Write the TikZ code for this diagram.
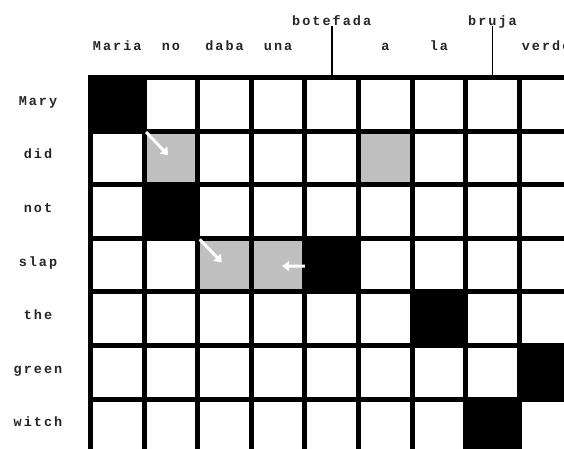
\documentclass[tikz,border=0pt]{standalone}
\usepackage{fontspec}
\newfontfamily\pix[LetterSpace=15,UprightFont=* Bold]{Liberation Mono}
\usetikzlibrary{calc,arrows.meta}
\begin{document}
\begin{tikzpicture}[x=1pt,y=-1pt,
  cell/.style={draw=black, line width=5pt, fill=white, minimum size=53.6pt, inner sep=0pt, outer sep=0pt, rectangle},
  lbl/.style={font=\pix\fontsize{13.5}{15}\selectfont, text=black!85, inner sep=0pt, anchor=base},
  warrow/.style={draw=white, line width=3pt, -{Triangle[width=10pt,length=7pt]}},
  shade/.style={fill=black!25},
  dark/.style={fill=black},
  tick/.style={draw=black, line width=1.8pt}]
\useasboundingbox (0,0) rectangle (564,448);
\clip (0,0) rectangle (564,448);
\fill[white] (0,0) rectangle (564,448);
% grid
\foreach \r in {0,...,6}{
  \foreach \c in {0,...,8}{
    \node[cell] (c-\r-\c) at ({90.5+53.6*\c+26.8},{77.5+53.6*\r+26.8}) {};
  }
}
% black cells
\foreach \r/\c in {0/0,2/1,3/4,4/6,5/8,6/7}{
  \fill[dark] ($(c-\r-\c.north west)+(-1,-1)$) rectangle ($(c-\r-\c.south east)+(1,1)$);
}
% gray cells
\foreach \r/\c in {1/1,1/5,3/2,3/3}{
  \fill[shade] ($(c-\r-\c.north west)+(2.5,2.5)$) rectangle ($(c-\r-\c.south east)-(2.5,2.5)$);
}
% arrows
\draw[warrow] ($(c-1-1.north west)+(2,1)$) -- ($(c-1-1.north west)!0.45!(c-1-1.south east)$);
\draw[warrow] ($(c-3-2.north west)+(2,1)$) -- ($(c-3-2.north west)!0.45!(c-3-2.south east)$);
\draw[warrow] ($(c-3-3.east)+(0,1)$) -- ($(c-3-3.east)!0.85!(c-3-3.center)+(0,1)$);
% column labels
\node[lbl] (l0) at ($(c-0-0.north)+(0,-27)$) {Maria};
\node[lbl] (l1) at ($(c-0-1.north)+(0,-27)$) {no};
\node[lbl] (l2) at ($(c-0-2.north)+(0,-27)$) {daba};
\node[lbl] (l3) at ($(c-0-3.north)+(0,-27)$) {una};
\node[lbl] (l4) at ($(c-0-4.north)+(0,-52)$) {botefada};
\node[lbl] (l5) at ($(c-0-5.north)+(0,-27)$) {a};
\node[lbl] (l6) at ($(c-0-6.north)+(0,-27)$) {la};
\node[lbl] (l7) at ($(c-0-7.north)+(0,-52)$) {bruja};
\node[lbl] (l8) at ($(c-0-8.north)+(0,-27)$) {verde};
\draw[tick] (l4.base) -- (c-0-4.north);
\draw[tick] (l7.base) -- (c-0-7.north);
% row labels
\node[lbl] (r0) at (38,{77.5+26.8+1}) {Mary};
\node[lbl] (r1) at (38,{77.5+53.6*1+26.8+1}) {did};
\node[lbl] (r2) at (38,{77.5+53.6*2+26.8+1}) {not};
\node[lbl] (r3) at (38,{77.5+53.6*3+26.8+1}) {slap};
\node[lbl] (r4) at (38,{77.5+53.6*4+26.8+1}) {the};
\node[lbl] (r5) at (38,{77.5+53.6*5+26.8+1}) {green};
\node[lbl] (r6) at (38,{77.5+53.6*6+26.8+1}) {witch};
\end{tikzpicture}
\end{document}
